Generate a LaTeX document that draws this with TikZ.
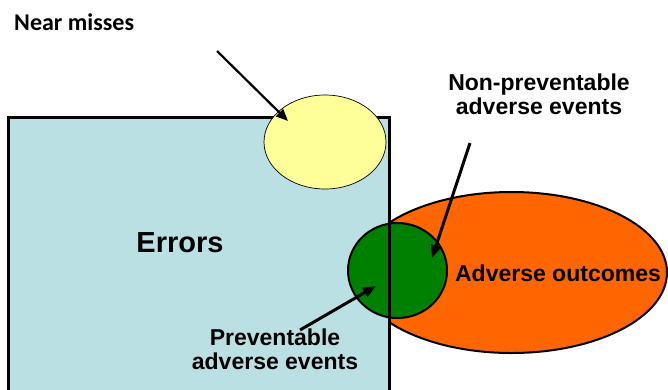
\documentclass[tikz,border=0pt]{standalone}
\usepackage{fontspec}
\setmainfont{Liberation Sans}
\newfontfamily\calibfont{Carlito}
\usetikzlibrary{arrows.meta,shapes.geometric}
\definecolor{errblue}{HTML}{BBE0E3}
\definecolor{nearyellow}{HTML}{FFFF99}
\definecolor{advorange}{HTML}{FF6600}
\definecolor{prevgreen}{HTML}{008000}
\tikzset{
  blob/.style={ellipse, inner sep=0pt, draw=black},
  lbl/.style={font=\bfseries\fontsize{23}{24}\selectfont, align=center, inner sep=0pt},
  pointer/.style={line width=3pt, -{Triangle[length=13pt,width=10pt]}},
}
\begin{document}
\begin{tikzpicture}[x=1pt,y=-1pt]
\clip (0,0) rectangle (668,389);
% adverse outcomes
\node[blob, fill=advorange, line width=2pt, minimum width=311pt, minimum height=161pt] (adv) at (511.5,272.5) {};
% errors box fill
\node[rectangle, fill=errblue, inner sep=0pt, minimum width=380pt, minimum height=292pt] (box) at (199,264) {};
% preventable circle
\node[blob, fill=prevgreen, line width=2pt, minimum width=99pt, minimum height=95pt] (prev) at (397.5,270.5) {};
% errors box border
\draw[line width=3pt] (box.south west) rectangle (box.north east);
% near misses
\node[blob, fill=nearyellow, line width=0.7pt, minimum width=122pt, minimum height=94pt] (near) at (325,142) {};

% labels
\node[anchor=west, inner sep=0pt, font=\calibfont\bfseries\fontsize{24}{26}\selectfont] (nearlbl) at (14,22) {Near misses};
\node[lbl] (nonlbl) at (539,94) {Non-preventable\\adverse events};
\node[lbl] (advlbl) at (558,273) {Adverse outcomes};
\node[lbl, font=\bfseries\fontsize{29}{30}\selectfont] (errlbl) at (180,243) {Errors};
\node[lbl] (prevlbl) at (275,349) {Preventable\\adverse events};

% pointers
\coordinate (nearstart) at (217,51);
\coordinate (neartip) at (288,121);
\draw[line width=2.2pt, -{Triangle[length=12pt,width=10pt]}] (nearstart) -- (neartip);
\coordinate (nonstart) at (470,143);
\coordinate (nontip) at (432,258);
\draw[pointer] (nonstart) -- (nontip);
\coordinate (prevstart) at (300,330);
\coordinate (prevtip) at (376,286);
\draw[pointer] (prevstart) -- (prevtip);
\end{tikzpicture}
\end{document}
